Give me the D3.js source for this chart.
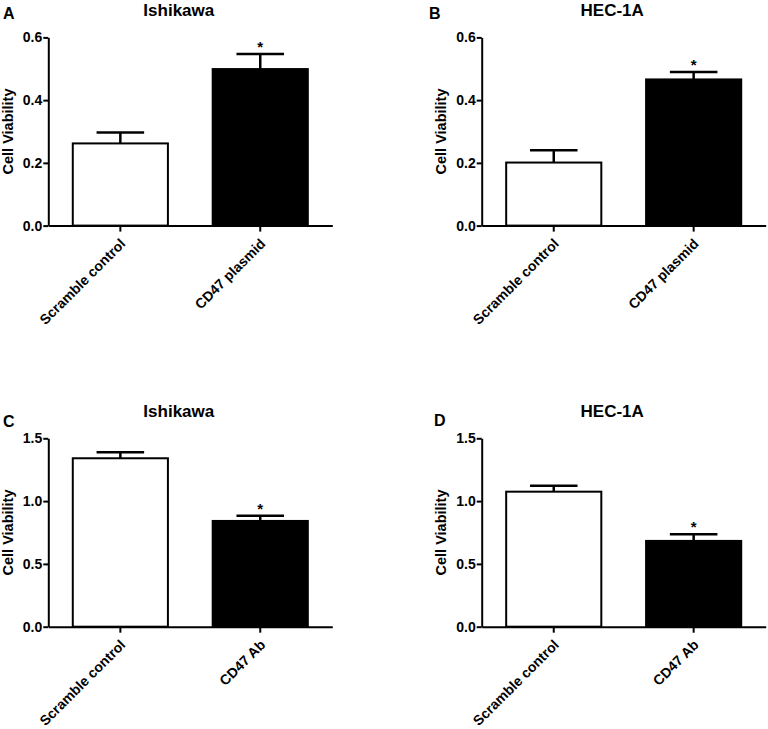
<!DOCTYPE html>
<html>
<head>
<meta charset="utf-8">
<script src="https://cdn.jsdelivr.net/npm/d3@7"></script>
<style>
  html, body { margin: 0; padding: 0; background: #fff; }
  svg { display: block; }
  text { font-family: "Liberation Sans", Arial, sans-serif; font-weight: bold; fill: #000; }
</style>
</head>
<body>
<svg id="chart" width="768" height="729"></svg>
<script>
// Data (upper error only, as drawn).
const plasmidGroups = ["Scramble control", "CD47 plasmid"];
const antibodyGroups = ["Scramble control", "CD47 Ab"];

const ishikawaPlasmidMean = [0.262, 0.499];
const ishikawaPlasmidErr  = [0.035, 0.048];
const hecPlasmidMean      = [0.201, 0.466];
const hecPlasmidErr       = [0.039, 0.024];

const ishikawaAbMean = [1.341, 0.842];
const ishikawaAbErr  = [0.048, 0.042];
const hecAbMean      = [1.075, 0.683];
const hecAbErr       = [0.048, 0.053];

const significance = ["", "*"];
const barFills = ["#fff", "#000"];

const topTicks = [0, 0.2, 0.4, 0.6];
const bottomTicks = [0, 0.5, 1.0, 1.5];

const svg = d3.select('#chart');

// Panel frames: axis origin + extent.
const panels = [
  { letter: "A", title: "Ishikawa", groups: plasmidGroups, mean: ishikawaPlasmidMean, err: ishikawaPlasmidErr,
    ticks: topTicks, left: 48.3, bottom: 225.6, top: 37.4, letterX: 3, letterY: 18.5, titleY: 16 },
  { letter: "B", title: "HEC-1A", groups: plasmidGroups, mean: hecPlasmidMean, err: hecPlasmidErr,
    ticks: topTicks, left: 481.7, bottom: 225.6, top: 37.4, letterX: 429, letterY: 19, titleY: 16 },
  { letter: "C", title: "Ishikawa", groups: antibodyGroups, mean: ishikawaAbMean, err: ishikawaAbErr,
    ticks: bottomTicks, left: 48.3, bottom: 626.7, top: 438.3, letterX: 3, letterY: 427, titleY: 416.7 },
  { letter: "D", title: "HEC-1A", groups: antibodyGroups, mean: hecAbMean, err: hecAbErr,
    ticks: bottomTicks, left: 481.7, bottom: 626.7, top: 438.3, letterX: 434, letterY: 426, titleY: 416.7 }
];

const AXIS_LEN = 284;
const LW = 2;

panels.forEach(p => {
  const g = svg.append('g');

  const x = d3.scaleBand()
    .domain(p.groups)
    .range([p.left, p.left + AXIS_LEN])
    .paddingInner(0.32)
    .paddingOuter(0.175);

  const yMax = p.ticks[p.ticks.length - 1];
  const y = d3.scaleLinear().domain([0, yMax]).range([p.bottom, p.top]);

  // Bars.
  g.selectAll('rect.bar')
    .data(p.mean)
    .enter().append('rect')
      .attr('class', 'bar')
      .attr('x', (d, i) => x(p.groups[i]))
      .attr('y', d => y(d))
      .attr('width', x.bandwidth())
      .attr('height', d => y(0) - y(d))
      .attr('fill', (d, i) => barFills[i])
      .attr('stroke', '#000')
      .attr('stroke-width', LW);

  // Upper error bars: stem + cap.
  const capHalf = x.bandwidth() * 0.25;
  const eb = g.selectAll('g.err')
    .data(p.mean)
    .enter().append('g').attr('class', 'err');
  eb.append('line')
    .attr('x1', (d, i) => x(p.groups[i]) + x.bandwidth() / 2)
    .attr('x2', (d, i) => x(p.groups[i]) + x.bandwidth() / 2)
    .attr('y1', d => y(d))
    .attr('y2', (d, i) => y(d + p.err[i]))
    .attr('stroke', '#000').attr('stroke-width', LW + 0.5);
  eb.append('line')
    .attr('x1', (d, i) => x(p.groups[i]) + x.bandwidth() / 2 - capHalf)
    .attr('x2', (d, i) => x(p.groups[i]) + x.bandwidth() / 2 + capHalf)
    .attr('y1', (d, i) => y(d + p.err[i]))
    .attr('y2', (d, i) => y(d + p.err[i]))
    .attr('stroke', '#000').attr('stroke-width', LW + 0.5);

  // Significance stars.
  eb.append('text')
    .attr('x', (d, i) => x(p.groups[i]) + x.bandwidth() / 2)
    .attr('y', (d, i) => y(d + p.err[i]) - 2)
    .attr('text-anchor', 'middle')
    .style('font-size', '15px')
    .text((d, i) => significance[i]);

  // Y axis.
  const yAxis = g.append('g')
    .attr('transform', `translate(${p.left},0)`)
    .call(d3.axisLeft(y).tickValues(p.ticks).tickFormat(d3.format('.1f'))
      .tickSize(5).tickSizeOuter(0).tickPadding(1));
  yAxis.select('.domain').attr('stroke-width', LW);
  yAxis.selectAll('.tick line').attr('stroke-width', LW);
  yAxis.selectAll('.tick text')
    .style('font-size', '14px')
    .style('font-family', '"Liberation Sans", Arial, sans-serif')
    .style('font-weight', 'bold');

  // X axis.
  const xAxis = g.append('g')
    .attr('transform', `translate(0,${p.bottom})`)
    .call(d3.axisBottom(x).tickSize(6).tickSizeOuter(0).tickFormat(''));
  xAxis.select('.domain').attr('stroke-width', LW);
  xAxis.selectAll('.tick line').attr('stroke-width', LW);

  // Rotated category labels.
  g.selectAll('text.cat')
    .data(p.groups)
    .enter().append('text')
      .attr('class', 'cat')
      .attr('text-anchor', 'end')
      .attr('transform', d => `translate(${x(d) + x.bandwidth() / 2 + 6},${p.bottom + 19}) rotate(-45)`)
      .style('font-size', '14px')
      .text(d => d);

  // Axis title.
  g.append('text')
    .attr('text-anchor', 'middle')
    .attr('transform', `translate(${p.left - 35.5},${(p.top + p.bottom) / 2}) rotate(-90)`)
    .style('font-size', '14.5px')
    .text('Cell Viability');

  // Panel title + letter.
  g.append('text')
    .attr('x', p.left + 130.5)
    .attr('y', p.titleY)
    .attr('text-anchor', 'middle')
    .style('font-size', '17px')
    .text(p.title);

  g.append('text')
    .attr('x', p.letterX)
    .attr('y', p.letterY)
    .style('font-size', '16px')
    .text(p.letter);
});
</script>
</body>
</html>
